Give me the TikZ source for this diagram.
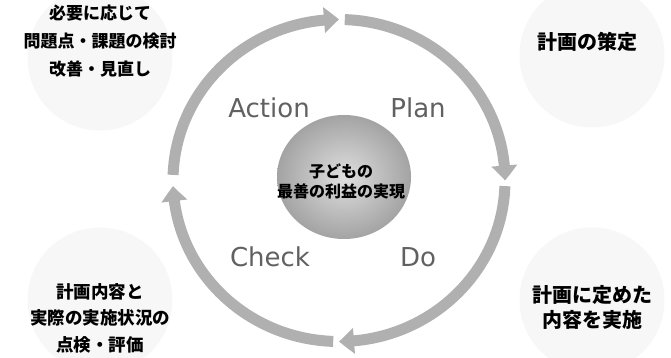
\documentclass[tikz,border=0pt]{standalone}
\usepackage{fontspec}
\newfontfamily\jp{Noto Sans CJK JP}
\newfontfamily\lat{DejaVu Sans}
\usetikzlibrary{arrows.meta,bending,calc}
\begin{document}
\begin{tikzpicture}[x=1pt,y=1pt,
  ringarrow/.style={line width=11pt, draw=gray!62, -{Triangle[width=25pt,length=15pt,bend]}},
  blob/.style={circle, fill=gray!6, minimum size=145pt, inner sep=0pt},
  note/.style={align=center, text=black},
  phase/.style={font=\lat\fontsize{26}{26}\selectfont, text=black!62},
]
\useasboundingbox (0,0) rectangle (671,358);
\fill[white] (0,0) rectangle (671,358);
% background blobs
\node[blob] (b1) at (100,300) {};
\node[blob] (b2) at (592,303) {};
\node[blob] (b3) at (100,58) {};
\node[blob] (b4) at (592,58) {};
% ring
\coordinate (C) at (339,177.5);
\coordinate (s1) at ($(C)+(178:166 and 161)$);
\coordinate (s2) at ($(C)+(88:166 and 161)$);
\coordinate (s3) at ($(C)+(-2:166 and 161)$);
\coordinate (s4) at ($(C)+(268:166 and 161)$);
\draw[ringarrow] (s1) arc[start angle=178,end angle=90,x radius=166,y radius=161];
\draw[ringarrow] (s2) arc[start angle=88,end angle=0,x radius=166,y radius=161];
\draw[ringarrow] (s3) arc[start angle=-2,end angle=-90,x radius=166,y radius=161];
\draw[ringarrow] (s4) arc[start angle=268,end angle=182,x radius=166,y radius=161];
% core
\shade[inner color=gray!25, outer color=gray!72] (344,181) ellipse[x radius=67, y radius=62];
\node[font=\jp\bfseries\fontsize{16}{20}\selectfont, align=center] (core) at (341,177) {子どもの\\最善の利益の実現};
% phases
\node[phase] (act) at (269,250) {Action};
\node[phase] (plan) at (418,250) {Plan};
\node[phase] (chk) at (270,101) {Check};
\node[phase] (do) at (418,101) {Do};
% notes
\node[note, font=\jp\bfseries\fontsize{17}{28}\selectfont] (n1) at (100,316.5) {必要に応じて\\問題点・課題の検討\\改善・見直し};
\node[note, font=\jp\bfseries\fontsize{20}{25}\selectfont] (n2) at (587,316) {計画の策定};
\node[note, font=\jp\bfseries\fontsize{17.5}{26.5}\selectfont] (n3) at (100,40) {計画内容と\\実際の実施状況の\\点検・評価};
\node[note, font=\jp\bfseries\fontsize{20}{25}\selectfont] (n4) at (592,50.5) {計画に定めた\\内容を実施};
\end{tikzpicture}
\end{document}
